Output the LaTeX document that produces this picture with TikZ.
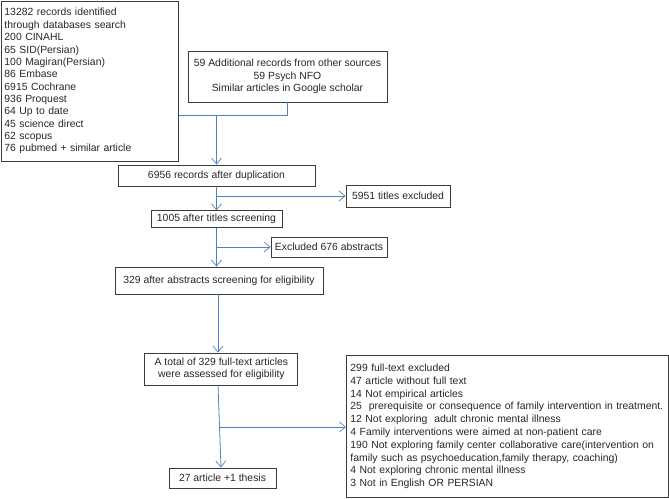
\documentclass[tikz,border=0pt]{standalone}
\usepackage{fontspec}
\setmainfont{Liberation Sans}
\usetikzlibrary{arrows.meta,calc}
\definecolor{conn}{RGB}{79,129,189}
\definecolor{edge}{RGB}{60,60,60}
\begin{document}
\begin{tikzpicture}[x=1pt,y=-1pt,
  box/.style={draw=edge,line width=0.9pt,inner sep=0pt,align=center,
    font=\fontsize{10.4}{12.3}\selectfont,text=black!85},
  lbox/.style={draw=edge,line width=0.9pt,inner ysep=0pt,align=left,
    text=black!85},
  line/.style={draw=conn,line width=0.8pt},
  arr/.style={line,-{Straight Barb[length=6pt,width=10pt,line width=0.7pt]}}]
\useasboundingbox (0,0) rectangle (669,498);
\node[lbox,anchor=north west,inner xsep=3.5pt,text width=170.5pt,minimum height=160.5pt,
  font=\fontsize{10.4}{12.35}\selectfont] (rec) at (0.5,0.5)
  {13282 records identified\\through databases search\\200 CINAHL\\65 SID(Persian)\\100 Magiran(Persian)\\86 Embase\\6915 Cochrane\\936 Proquest\\64 Up to date\\45 science direct\\62 scopus\\76 pubmed + similar article};
\node[box,minimum width=199pt,minimum height=51pt,font=\fontsize{10.4}{12.6}\selectfont] (add) at (287.5,76.5)
  {59 Additional records from other sources\\59 Psych NFO\\Similar articles in Google scholar};
\node[box,minimum width=197pt,minimum height=21pt] (dup) at (216.5,175.5) {6956 records after duplication};
\node[box,minimum width=104pt,minimum height=22pt] (ex1) at (398,196) {5951 titles excluded};
\node[box,minimum width=131pt,minimum height=16.5pt] (tit) at (216.5,219) {1005 after titles screening};
\node[box,minimum width=116pt,minimum height=20pt] (ex2) at (329,247) {Excluded 676 abstracts};
\node[box,minimum width=208pt,minimum height=27pt] (abs) at (219,280.5) {329 after abstracts screening for eligibility};
\node[box,minimum width=153pt,minimum height=32pt,font=\fontsize{10.4}{12}\selectfont] (full) at (221.4,369)
  {A total of 329 full-text articles\\were assessed for eligibility};
\node[box,minimum width=107pt,minimum height=20pt] (final) at (222.5,478) {27 article +1 thesis};
\node[lbox,anchor=north west,inner xsep=4pt,text width=314pt,minimum height=142pt,
  font=\fontsize{10.4}{12.8}\selectfont] (ex3) at (346,355)
  {299 full-text excluded\\47 article without full text\\14 Not empirical articles\\\mbox{25\ \ prerequisite or consequence of family intervention in treatment.}\\12 Not exploring\ \ adult chronic mental illness\\4 Family interventions were aimed at non-patient care\\\mbox{190 Not exploring family center collaborative care(intervention on}\\family such as psychoeducation,family therapy, coaching)\\4 Not exploring chronic mental illness\\3 Not in English OR PERSIAN};
% connectors
\coordinate (j1) at (216.5,115.5);
\draw[line] (rec.east |- j1) -- (add.south |- j1) -- (add.south);
\draw[arr] (j1) -- (dup.north);
\draw[arr] (dup.south) -- (tit.north);
\coordinate (b1) at (216.5,196);
\draw[arr] (b1) -- (ex1.west);
\draw[arr] (tit.south) -- (tit.south |- abs.north);
\coordinate (b2) at (216.5,247);
\draw[arr] (b2) -- (ex2.west);
\draw[arr] (abs.south -| tit.south) ++(1.5,0) coordinate (a2) -- (a2 |- full.north);
\coordinate (fs) at (218,385);
\draw[arr] (fs) -- (final.north -| 221,0);
\coordinate (b3) at (220,427);
\draw[arr] (b3) -- (ex3.west |- b3);
\end{tikzpicture}
\end{document}
